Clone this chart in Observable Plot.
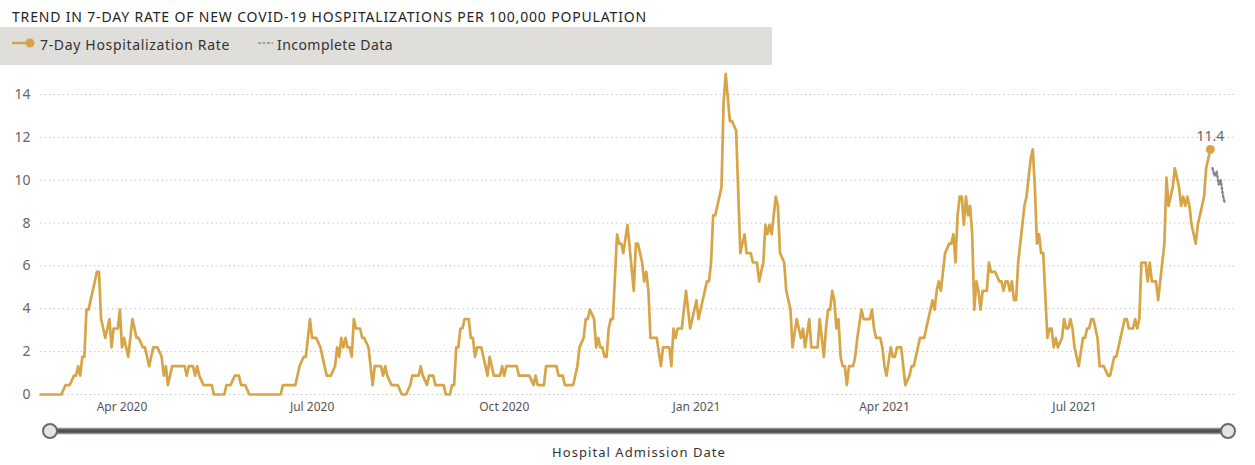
<!DOCTYPE html>
<html>
<head>
<meta charset="utf-8">
<script src="https://cdn.jsdelivr.net/npm/d3@7"></script>
<script src="https://cdn.jsdelivr.net/npm/@observablehq/plot@0.6"></script>
<style>
  body { margin: 0; background: #fff; font-family: "Segoe UI", "Noto Sans", "Open Sans", sans-serif; }
  #wrap { position: relative; width: 1255px; height: 465px; overflow: hidden; background: #fff; }
  #title { position: absolute; left: 12px; top: 7px; font-size: 14px; color: #252423; white-space: nowrap; }
  #legend { position: absolute; left: 0; top: 27px; width: 772px; height: 38px; background: #e0dedb; }
  .ltxt { position: absolute; top: 8px; font-size: 14px; color: #333; white-space: nowrap; }
  #chart { position: absolute; left: 0; top: 60px; }
  #slider { position: absolute; left: 0; top: 416px; }
  #xlabel { position: absolute; left: 552px; top: 443px; font-size: 13px; color: #333; white-space: nowrap; }
</style>
</head>
<body>
<div id="wrap">
  <div id="title"></div>
  <div id="legend">
    <svg width="40" height="38" style="position:absolute;left:0;top:0">
      <line x1="12" x2="30" y1="16" y2="16" stroke="#d7a548" stroke-width="2.5"></line>
      <circle cx="30" cy="16" r="4.5" fill="#d7a548"></circle>
    </svg>
    <div class="ltxt" id="leg1" style="left:40px"></div>
    <svg width="20" height="38" style="position:absolute;left:256px;top:0">
      <line x1="2" x2="17" y1="16" y2="16" stroke="#8c8c8c" stroke-width="1.3" stroke-dasharray="3,1.5"></line>
    </svg>
    <div class="ltxt" id="leg2" style="left:277px"></div>
  </div>
  <div id="chart"></div>
  <svg id="slider" width="1255" height="30">
    <line x1="50" x2="1228" y1="15" y2="15" stroke="#8d9294" stroke-width="6.5"></line>
    <line x1="50" x2="1228" y1="15" y2="15" stroke="#4b5254" stroke-width="3.5"></line>
    <circle cx="50" cy="15" r="7" fill="#e4e4e4" stroke="#6a6a6a" stroke-width="2"></circle>
    <circle cx="1228" cy="15" r="7" fill="#e4e4e4" stroke="#6a6a6a" stroke-width="2"></circle>
  </svg>
  <div id="xlabel"></div>
</div>
<script>
// ---------- DATA ----------
const titleText = "TREND IN 7-DAY RATE OF NEW COVID-19 HOSPITALIZATIONS PER 100,000 POPULATION";
const seriesName = "7-Day Hospitalization Rate";
const incompleteName = "Incomplete Data";
const xAxisTitle = "Hospital Admission Date";

// days counted from 2020-04-01
const baseDate = "2020-04-01";
const dayOffsets = [
  -39,-29,-27,-25,-23,-22,-21,-20,-19,-18,-17,-16,-12,-11,-10,-8,-6,-5,-4,-2,-1,
  0,1,3,5,7,8,10,11,13,14,15,17,19,20,21,22,24,30,31,32,34,35,36,37,39,43,44,49,50,52,
  54,56,57,59,61,76,77,83,84,85,87,88,90,91,93,95,98,100,102,103,104,105,106,107,108,109,110,
  111,112,114,115,116,118,120,121,124,125,126,127,129,132,134,136,138,139,142,143,144,146,147,149,150,
  154,155,157,158,159,160,161,162,163,164,166,167,168,169,170,172,173,175,176,177,178,181,182,183,184,
  189,190,195,197,198,199,202,203,208,209,211,212,216,218,219,221,222,223,224,226,227,228,229,230,
  231,232,233,234,235,237,238,239,240,242,245,246,247,249,250,251,252,253,256,258,259,262,263,264,
  265,266,268,270,272,275,276,278,280,281,282,283,284,286,287,288,289,291,292,294,296,298,299,301,
  302,304,305,307,308,309,310,311,313,314,315,317,318,320,321,323,324,325,326,327,329,330,333,334,
  336,337,338,339,340,341,342,343,344,345,346,347,348,350,351,352,354,355,358,359,360,361,363,364,
  365,366,368,369,370,371,373,374,375,377,378,379,381,382,384,385,387,388,389,390,391,392,393,394,
  396,397,398,399,400,401,402,403,404,405,406,407,408,409,410,411,412,414,415,416,418,420,421,422,
  423,424,425,426,427,428,429,431,432,433,435,436,437,438,439,440,441,443,444,445,446,447,448,450,
  451,452,453,454,455,456,458,460,461,462,463,464,465,467,468,470,472,473,474,475,476,477,479,480,
  481,482,484,485,486,487,488,490,491,492,493,495,496,498,499,500,501,503,504,506,507,508,509,510,
  511,512,514,515,516,518,519,521
];
const rates = [
  0,0,0.44,0.44,0.88,0.88,1.32,0.88,1.76,1.76,3.96,3.96,5.72,5.72,3.52,2.64,3.52,2.2,3.08,3.08,3.96,
  2.2,2.64,1.76,3.52,2.64,2.64,2.2,2.2,1.32,1.76,2.2,2.2,1.76,0.88,1.32,0.44,1.32,1.32,0.88,1.32,1.32,0.88,1.32,0.88,0.44,0.44,0,0,0.44,0.44,
  0.88,0.88,0.44,0.44,0,0,0.44,0.44,0.88,1.32,1.76,1.76,3.52,2.64,2.64,2.2,0.88,0.88,1.32,2.2,1.76,2.64,2.2,2.64,2.2,2.2,1.76,
  3.52,3.08,3.08,2.64,2.64,2.2,0.44,1.32,1.32,0.88,1.32,0.88,0.44,0.44,0,0,0.44,0.88,0.88,1.32,0.88,0.44,0.88,0.88,0.44,
  0.44,0,0,0.44,0.44,2.2,2.2,3.08,3.08,3.52,3.52,2.64,2.64,1.76,2.2,2.2,1.76,0.88,1.76,1.32,0.88,0.88,1.32,0.88,1.32,
  1.32,0.88,0.88,0.44,0.88,0.44,0.44,1.32,1.32,0.88,0.88,0.44,0.44,1.32,2.2,2.64,3.52,3.52,3.96,3.52,2.2,2.64,2.2,2.2,
  1.76,1.76,3.08,3.52,3.52,7.48,7.04,7.04,6.6,7.92,4.84,7.04,7.04,6.16,5.28,5.72,4.84,2.64,2.64,1.32,2.2,2.2,1.32,3.08,
  2.64,3.08,3.08,4.84,3.08,4.4,3.52,4.4,5.28,5.28,6.16,8.36,8.36,9.24,9.68,13.64,14.96,12.76,12.76,12.32,6.6,7.48,6.6,6.6,
  6.16,6.16,5.28,6.16,7.92,7.48,7.92,7.48,9.24,8.8,6.6,6.16,4.84,3.96,2.2,3.52,3.08,2.64,3.08,2.2,3.52,2.2,2.2,3.52,
  1.76,3.08,3.96,3.96,4.84,4.4,3.08,3.52,1.76,1.32,1.32,0.44,1.32,1.32,1.76,2.64,3.96,3.52,3.52,3.96,3.08,2.64,2.64,2.2,
  1.32,0.88,2.2,1.76,1.76,2.2,2.2,1.32,0.44,0.88,1.32,1.32,2.2,2.64,2.64,3.08,3.96,4.4,3.96,4.84,5.28,4.84,5.72,6.6,
  7.04,7.04,7.48,6.16,8.36,9.24,9.24,7.92,9.24,8.36,8.8,7.48,3.96,5.28,4.84,3.96,4.84,4.84,6.16,5.72,5.72,5.28,5.28,4.84,
  5.28,5.28,4.84,5.28,4.4,4.4,6.16,7.92,8.8,9.24,11.0,11.44,9.68,7.04,7.48,6.6,6.6,2.64,3.08,3.08,2.2,2.64,2.2,2.64,
  3.52,3.08,3.08,3.52,3.08,2.2,1.32,2.64,2.64,3.08,3.08,3.52,3.52,2.64,1.32,1.32,0.88,0.88,1.32,1.76,1.76,2.2,3.08,3.52,
  3.52,3.08,3.08,3.52,3.08,3.52,6.16,6.16,5.28,6.16,5.28,5.28,4.4,6.16,7.04,10.12,8.8,9.68,10.56,9.68,8.8,9.24,8.8,9.24,
  8.8,7.92,7.04,7.92,8.36,9.24,10.56,11.44
];
const incompleteOffsets = [522, 523, 524, 525, 526, 527, 528];
const incompleteRates = [10.56, 10.2, 10.4, 9.8, 10.0, 9.3, 8.9];

const xDomainDays = [-39, 534];
const xTickDates = ["2020-04-01", "2020-07-01", "2020-10-01", "2021-01-01", "2021-04-01", "2021-07-01"];
const yTicks = [0, 2, 4, 6, 8, 10, 12, 14];
const yDomain = [0, 15];

// ---------- BUILD ----------
const lineColor = "#d7a548";
const fontStack = '"Segoe UI", "Noto Sans", "Open Sans", sans-serif';
const base = new Date(baseDate + "T00:00:00Z");
const toDate = d => d3.utcDay.offset(base, d);

const series = dayOffsets.map((d, i) => ({date: toDate(d), rate: rates[i]}));
const incomplete = incompleteOffsets.map((d, i) => ({date: toDate(d), rate: incompleteRates[i]}));
const last = series[series.length - 1];

document.getElementById("title").textContent = titleText;
document.getElementById("leg1").textContent = seriesName;
document.getElementById("leg2").textContent = incompleteName;
document.getElementById("xlabel").textContent = xAxisTitle;

function fit(id, target) {
  const el = document.getElementById(id);
  const w = el.getBoundingClientRect().width;
  const n = el.textContent.length;
  el.style.letterSpacing = ((target - w) / n) + "px";
}
fit("title", 635);
fit("leg1", 190);
fit("leg2", 116);
fit("xlabel", 174);

const chart = Plot.plot({
  width: 1255,
  height: 360,
  marginLeft: 40,
  marginRight: 18,
  marginTop: 12.6,
  marginBottom: 26,
  style: {fontFamily: fontStack, fontSize: "13px", background: "transparent", color: "#666"},
  x: {type: "utc", domain: xDomainDays.map(toDate)},
  y: {domain: yDomain},
  marks: [
    Plot.gridY(yTicks, {stroke: "#c6c6c6", strokeOpacity: 1, strokeDasharray: "1.5,3", strokeWidth: 1}),
    Plot.axisY(yTicks, {tickSize: 0, tickPadding: 10, fontSize: 14, fill: "#666", label: null}),
    Plot.axisX(xTickDates.map(s => new Date(s + "T00:00:00Z")), {
      tickSize: 0, tickPadding: 8, fontSize: 12, fill: "#555", label: null,
      tickFormat: d3.utcFormat("%b %Y")
    }),
    Plot.line(series, {x: "date", y: "rate", stroke: lineColor, strokeWidth: 2.7}),
    Plot.line(incomplete, {x: "date", y: "rate", stroke: "#858585", strokeWidth: 2.4, strokeDasharray: "1.8,2.4"}),
    Plot.dot([last], {x: "date", y: "rate", r: 4.5, fill: lineColor}),
    Plot.text([last], {x: "date", y: "rate", text: d => d3.format(".1f")(d.rate), dy: -13, fontSize: 14, fill: "#666"})
  ]
});
document.getElementById("chart").appendChild(chart);
</script>
</body>
</html>
